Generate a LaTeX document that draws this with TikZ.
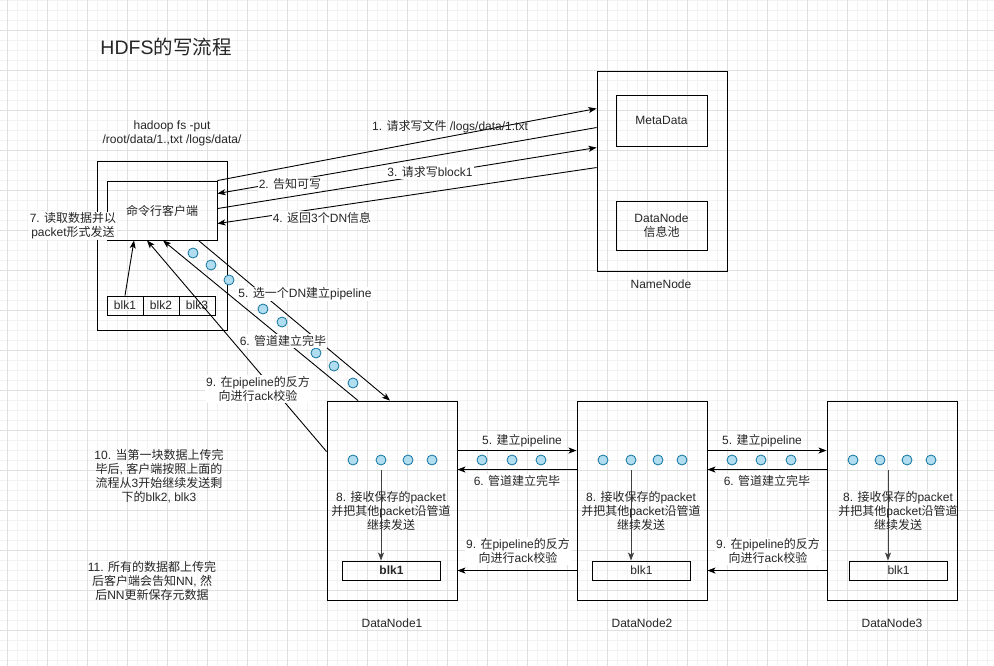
\documentclass[tikz,border=0pt]{standalone}
\usepackage{fontspec}
\setmainfont{Liberation Sans}
\newfontfamily\cjk{Noto Sans CJK SC}
% switch to the CJK font for Chinese characters
\XeTeXinterchartokenstate=1
\newXeTeXintercharclass\cjkcls
\count255="4E00
\loop
  \XeTeXcharclass\count255=\cjkcls
  \advance\count255 by 1
\ifnum\count255<"9FFF \repeat
\XeTeXinterchartoks 0 \cjkcls = {\cjk}
\XeTeXinterchartoks 4095 \cjkcls = {\cjk}
\XeTeXinterchartoks \cjkcls 0 = {\rmfamily}
\XeTeXinterchartoks \cjkcls 4095 = {\rmfamily}
\usetikzlibrary{arrows.meta}
\definecolor{pktfill}{HTML}{B1DDF0}
\definecolor{pktline}{HTML}{10739E}
\definecolor{gridminor}{HTML}{F2F2F2}
\definecolor{gridmajor}{HTML}{E0E0E0}
\begin{document}
\begin{tikzpicture}[x=1pt,y=-1pt,
    every node/.style={font=\fontsize{12}{14}\selectfont, text=black!85},
    box/.style={draw, line width=0.9pt, inner sep=0pt, align=center},
    lbl/.style={fill=white, inner sep=1pt, align=center},
    pkt/.style={circle, draw=pktline, fill=pktfill, line width=0.8pt, minimum size=10pt, inner sep=0pt},
    arr/.style={line width=0.9pt, -{Stealth[length=8pt,width=6pt,inset=2pt]}}]
        \useasboundingbox (0,0) rectangle (994,666);
        \fill[white] (0,0) rectangle (994,666);
        \foreach \x in {6.7,16.7,...,994} \draw[gridminor] (\x,0) -- (\x,666);
        \foreach \y in {0,10,...,666} \draw[gridminor] (0,\y) -- (994,\y);
        \foreach \x in {6.7,46.7,...,994} \draw[gridmajor] (\x,0) -- (\x,666);
        \foreach \y in {30,70,...,666} \draw[gridmajor] (0,\y) -- (994,\y);

        \node (title) at (166,47) {\fontsize{19.5}{22}\selectfont HDFS的写流程};
        \node[align=center] (cmd) at (172,133) {hadoop fs -put\\/root/data/1.,txt /logs/data/};

        % client
        \node[box, minimum width=130pt, minimum height=169pt] (clientbox) at (162,245.5) {};
        \node[box, minimum width=110pt, minimum height=59pt] (cli) at (162,210.5) {命令行客户端};
        \node[box, minimum width=36pt, minimum height=19pt] (b1) at (125,305.5) {blk1};
        \node[box, minimum width=36pt, minimum height=19pt] (b2) at (161,305.5) {blk2};
        \node[box, minimum width=36pt, minimum height=19pt] (b3) at (197,305.5) {blk3};

        % namenode
        \node[box, minimum width=130pt, minimum height=200pt] (nn) at (662,171) {};
        \node[box, minimum width=91pt, minimum height=51pt] (meta) at (661.5,120.5) {MetaData};
        \node[box, minimum width=91pt, minimum height=49pt] (pool) at (661.5,225.5) {DataNode\\信息池};
        \node (nnname) at (661,284) {NameNode};

        % datanodes
        \node[box, minimum width=130pt, minimum height=199pt] (dn1) at (392,500.5) {};
        \node[box, minimum width=130pt, minimum height=199pt] (dn2) at (642,500.5) {};
        \node[box, minimum width=130pt, minimum height=199pt] (dn3) at (892,500.5) {};
        \node[box, minimum width=98pt, minimum height=19pt] (k1) at (391.5,570.5) {\textbf{blk1}};
        \node[box, minimum width=98pt, minimum height=19pt] (k2) at (641.5,570.5) {blk1};
        \node[box, minimum width=98pt, minimum height=19pt] (k3) at (898.5,570.5) {blk1};
        \node (dn1name) at (392,623) {DataNode1};
        \node (dn2name) at (642,623) {DataNode2};
        \node (dn3name) at (892,623) {DataNode3};

        % client <-> namenode
        \draw[arr] (cli.north east) -- ([yshift=-38pt]nn.north west);
        \draw[arr] ([yshift=-57pt]nn.north west) -- ([yshift=-13pt]cli.north east);
        \draw[arr] ([yshift=-28pt]cli.north east) -- ([yshift=-77pt]nn.north west);
        \draw[arr] ([yshift=-97pt]nn.north west) -- ([yshift=-43pt]cli.north east);

        % client <-> datanode1
        \draw[arr] (b1.north) -- ([xshift=-28pt]cli.south);
        \draw[arr] ([xshift=-19pt]cli.south east) -- ([xshift=-2pt]dn1.north);
        \draw[arr] ([xshift=-34pt]dn1.north) -- ([xshift=1pt]cli.south);
        \draw[arr] ([yshift=-51pt]dn1.north west) -- ([xshift=-15pt]cli.south);

        % datanode pipeline
        \draw[arr] ([yshift=-50pt]dn1.north east) -- ([yshift=-50pt]dn2.north west);
        \draw[arr] ([yshift=-69pt]dn2.north west) -- ([yshift=-69pt]dn1.north east);
        \draw[arr] ([yshift=-170pt]dn2.north west) -- ([yshift=-170pt]dn1.north east);
        \draw[arr] ([yshift=-50pt]dn2.north east) -- ([yshift=-50pt]dn3.north west);
        \draw[arr] ([yshift=-69pt]dn3.north west) -- ([yshift=-69pt]dn2.north east);
        \draw[arr] ([yshift=-170pt]dn3.north west) -- ([yshift=-170pt]dn2.north east);

        % packets
        \node[pkt] (c1) at (193,253) {};
        \node[pkt] (c2) at (211,265) {};
        \node[pkt] (c3) at (229,280) {};
        \node[pkt] (c4) at (263,309) {};
        \node[pkt] (c5) at (282,322) {};
        \node[pkt] (c6) at (316,353) {};
        \node[pkt] (c7) at (334,366) {};
        \node[pkt] (c8) at (353,383) {};

        \node[pkt] (d1c1) at (353,460) {};
        \node[pkt] (d1c2) at (381,460) {};
        \node[pkt] (d1c3) at (408,460) {};
        \node[pkt] (d1c4) at (432,460) {};
        \node[pkt] (m1c1) at (482,460) {};
        \node[pkt] (m1c2) at (512,460) {};
        \node[pkt] (m1c3) at (541,460) {};
        \node[pkt] (d2c1) at (603,460) {};
        \node[pkt] (d2c2) at (631,460) {};
        \node[pkt] (d2c3) at (658,460) {};
        \node[pkt] (d2c4) at (682,460) {};
        \node[pkt] (m2c1) at (732,460) {};
        \node[pkt] (m2c2) at (761,460) {};
        \node[pkt] (m2c3) at (791,460) {};
        \node[pkt] (d3c1) at (853,460) {};
        \node[pkt] (d3c2) at (880,460) {};
        \node[pkt] (d3c3) at (907,460) {};
        \node[pkt] (d3c4) at (931,460) {};

        % store inside datanodes
        \coordinate (s1) at (381,470);
        \coordinate (s2) at (631,470);
        \coordinate (s3) at (888,470);
        \draw[arr, draw=black!75] (s1) -- (s1 |- k1.north);
        \draw[arr, draw=black!75] (s2) -- (s2 |- k2.north);
        \draw[arr, draw=black!75] (s3) -- (s3 |- k3.north);
        \node[align=center] (t8a) at (391,511) {8. 接收保存的packet\\并把其他packet沿管道\\继续发送};
        \node[align=center] (t8b) at (641,511) {8. 接收保存的packet\\并把其他packet沿管道\\继续发送};
        \node[align=center] (t8c) at (898,511) {8. 接收保存的packet\\并把其他packet沿管道\\继续发送};

        % labels
        \node[align=center, inner sep=1pt] (l1) at (450,127) {1. 请求写文件 /logs/data/1.txt};
        \node[lbl] (l2) at (290,184) {2. 告知可写};
        \node[lbl] (l3) at (430,172) {3. 请求写block1};
        \node[lbl] (l4) at (322,218) {4. 返回3个DN信息};
        \node[lbl] (l5) at (305,294) {5. 选一个DN建立pipeline};
        \node[lbl] (l6) at (283,341) {6. 管道建立完毕};
        \node[lbl] (l7) at (73,226) {7. 读取数据并以\\packet形式发送};
        \node[lbl] (l9) at (258,389) {9. 在pipeline的反方\\向进行ack校验};
        \node[lbl] (h5a) at (522,441) {5. 建立pipeline};
        \node[lbl] (h6a) at (517,481) {6. 管道建立完毕};
        \node[lbl] (h9a) at (518,551) {9. 在pipeline的反方\\向进行ack校验};
        \node[lbl] (h5b) at (762,441) {5. 建立pipeline};
        \node[lbl] (h6b) at (767,481) {6. 管道建立完毕};
        \node[lbl] (h9b) at (768,551) {9. 在pipeline的反方\\向进行ack校验};

        \node[align=center] (t10) at (159,476) {10. 当第一块数据上传完\\毕后, 客户端按照上面的\\流程从3开始继续发送剩\\下的blk2, blk3};
        \node[align=center] (t11) at (152,581) {11. 所有的数据都上传完\\后客户端会告知NN, 然\\后NN更新保存元数据};

    \end{tikzpicture}
\end{document}
